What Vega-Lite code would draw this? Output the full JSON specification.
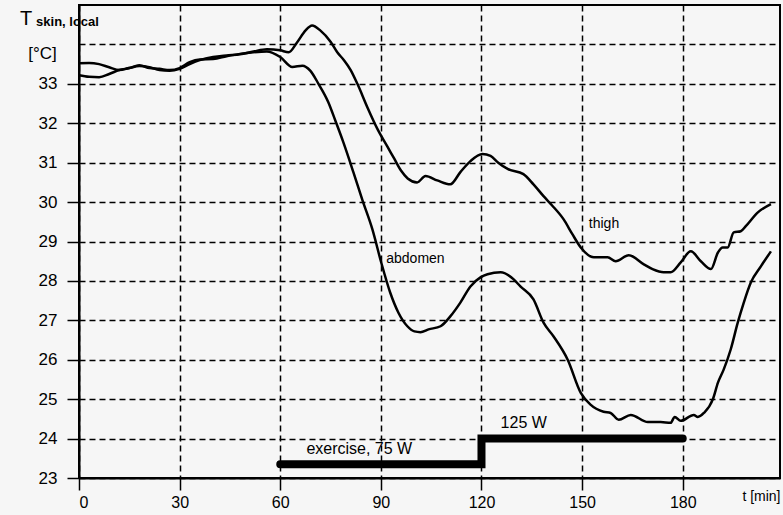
{
  "$schema": "https://vega.github.io/schema/vega-lite/v6.json",
  "autosize": {"type": "none"},
  "padding": {"left": 79, "top": 5, "right": 3, "bottom": 37},
  "width": 701,
  "height": 473,
  "background": "#f6f6f6",
  "config": {
    "view": {"stroke": "#000", "strokeWidth": 2},
    "font": "Liberation Sans, Arial, sans-serif"
  },
  "datasets": {
    "curves": [
      {"series": "thigh", "t": 0, "T": 33.52}, {"series": "thigh", "t": 3, "T": 33.53}, {"series": "thigh", "t": 6, "T": 33.5},
      {"series": "thigh", "t": 9, "T": 33.42}, {"series": "thigh", "t": 12, "T": 33.35}, {"series": "thigh", "t": 15, "T": 33.4},
      {"series": "thigh", "t": 18, "T": 33.45}, {"series": "thigh", "t": 21, "T": 33.42}, {"series": "thigh", "t": 24, "T": 33.35},
      {"series": "thigh", "t": 27, "T": 33.33}, {"series": "thigh", "t": 30, "T": 33.38}, {"series": "thigh", "t": 33, "T": 33.5},
      {"series": "thigh", "t": 36, "T": 33.6}, {"series": "thigh", "t": 40, "T": 33.68}, {"series": "thigh", "t": 44, "T": 33.72},
      {"series": "thigh", "t": 48, "T": 33.75}, {"series": "thigh", "t": 52, "T": 33.82}, {"series": "thigh", "t": 56, "T": 33.88},
      {"series": "thigh", "t": 60, "T": 33.85}, {"series": "thigh", "t": 62.5, "T": 33.8}, {"series": "thigh", "t": 65, "T": 34.05},
      {"series": "thigh", "t": 67.5, "T": 34.35}, {"series": "thigh", "t": 69.5, "T": 34.48}, {"series": "thigh", "t": 72, "T": 34.35},
      {"series": "thigh", "t": 75, "T": 34.07}, {"series": "thigh", "t": 77, "T": 33.8}, {"series": "thigh", "t": 79, "T": 33.6},
      {"series": "thigh", "t": 81, "T": 33.35}, {"series": "thigh", "t": 83, "T": 33.0}, {"series": "thigh", "t": 86, "T": 32.4},
      {"series": "thigh", "t": 89, "T": 31.85}, {"series": "thigh", "t": 92, "T": 31.4}, {"series": "thigh", "t": 94, "T": 31.1},
      {"series": "thigh", "t": 96, "T": 30.8}, {"series": "thigh", "t": 98, "T": 30.6}, {"series": "thigh", "t": 100.8, "T": 30.5},
      {"series": "thigh", "t": 103.3, "T": 30.66}, {"series": "thigh", "t": 106.8, "T": 30.55}, {"series": "thigh", "t": 110.7, "T": 30.45},
      {"series": "thigh", "t": 113.7, "T": 30.76}, {"series": "thigh", "t": 116.7, "T": 31.04}, {"series": "thigh", "t": 120.3, "T": 31.22},
      {"series": "thigh", "t": 122.7, "T": 31.17}, {"series": "thigh", "t": 125, "T": 31.0}, {"series": "thigh", "t": 127.8, "T": 30.84},
      {"series": "thigh", "t": 132.5, "T": 30.71}, {"series": "thigh", "t": 135.5, "T": 30.45}, {"series": "thigh", "t": 138.5, "T": 30.15},
      {"series": "thigh", "t": 141, "T": 29.92}, {"series": "thigh", "t": 144.5, "T": 29.56}, {"series": "thigh", "t": 147, "T": 29.2},
      {"series": "thigh", "t": 149.6, "T": 28.85}, {"series": "thigh", "t": 153.5, "T": 28.6}, {"series": "thigh", "t": 157.6, "T": 28.6},
      {"series": "thigh", "t": 160, "T": 28.5}, {"series": "thigh", "t": 163.9, "T": 28.65}, {"series": "thigh", "t": 168.4, "T": 28.42},
      {"series": "thigh", "t": 171, "T": 28.3}, {"series": "thigh", "t": 174.3, "T": 28.22}, {"series": "thigh", "t": 176.4, "T": 28.22},
      {"series": "thigh", "t": 179.4, "T": 28.47}, {"series": "thigh", "t": 182.4, "T": 28.75}, {"series": "thigh", "t": 185.4, "T": 28.5},
      {"series": "thigh", "t": 188.4, "T": 28.3}, {"series": "thigh", "t": 190.5, "T": 28.72}, {"series": "thigh", "t": 191.9, "T": 28.85},
      {"series": "thigh", "t": 193.4, "T": 28.85}, {"series": "thigh", "t": 195.2, "T": 29.23}, {"series": "thigh", "t": 197.3, "T": 29.26},
      {"series": "thigh", "t": 198.8, "T": 29.39}, {"series": "thigh", "t": 202.4, "T": 29.74}, {"series": "thigh", "t": 206.3, "T": 29.95},
      {"series": "abdomen", "t": 0, "T": 33.22}, {"series": "abdomen", "t": 3, "T": 33.18}, {"series": "abdomen", "t": 6, "T": 33.17},
      {"series": "abdomen", "t": 9, "T": 33.25}, {"series": "abdomen", "t": 12, "T": 33.35}, {"series": "abdomen", "t": 15, "T": 33.4},
      {"series": "abdomen", "t": 18, "T": 33.47}, {"series": "abdomen", "t": 21, "T": 33.4}, {"series": "abdomen", "t": 24, "T": 33.38},
      {"series": "abdomen", "t": 27, "T": 33.35}, {"series": "abdomen", "t": 30, "T": 33.4}, {"series": "abdomen", "t": 33, "T": 33.55},
      {"series": "abdomen", "t": 36, "T": 33.62}, {"series": "abdomen", "t": 40, "T": 33.63}, {"series": "abdomen", "t": 44, "T": 33.7},
      {"series": "abdomen", "t": 48, "T": 33.76}, {"series": "abdomen", "t": 52, "T": 33.8}, {"series": "abdomen", "t": 56, "T": 33.82},
      {"series": "abdomen", "t": 60, "T": 33.68}, {"series": "abdomen", "t": 63.6, "T": 33.43}, {"series": "abdomen", "t": 66.6, "T": 33.46},
      {"series": "abdomen", "t": 69, "T": 33.33}, {"series": "abdomen", "t": 71.4, "T": 33.0}, {"series": "abdomen", "t": 74.3, "T": 32.54},
      {"series": "abdomen", "t": 76.5, "T": 32.05}, {"series": "abdomen", "t": 78.8, "T": 31.52}, {"series": "abdomen", "t": 81.8, "T": 30.76},
      {"series": "abdomen", "t": 84.5, "T": 30.05}, {"series": "abdomen", "t": 87.5, "T": 29.3}, {"series": "abdomen", "t": 90, "T": 28.5},
      {"series": "abdomen", "t": 92.8, "T": 27.7}, {"series": "abdomen", "t": 95.2, "T": 27.2}, {"series": "abdomen", "t": 97.9, "T": 26.85},
      {"series": "abdomen", "t": 100, "T": 26.72}, {"series": "abdomen", "t": 101.8, "T": 26.7}, {"series": "abdomen", "t": 104.2, "T": 26.77},
      {"series": "abdomen", "t": 107.8, "T": 26.85}, {"series": "abdomen", "t": 110.7, "T": 27.1}, {"series": "abdomen", "t": 113.7, "T": 27.45},
      {"series": "abdomen", "t": 116.7, "T": 27.86}, {"series": "abdomen", "t": 119.7, "T": 28.09}, {"series": "abdomen", "t": 121.8, "T": 28.17},
      {"series": "abdomen", "t": 125.7, "T": 28.22}, {"series": "abdomen", "t": 129.6, "T": 28.04}, {"series": "abdomen", "t": 131.6, "T": 27.86},
      {"series": "abdomen", "t": 135.5, "T": 27.53}, {"series": "abdomen", "t": 138.5, "T": 26.94}, {"series": "abdomen", "t": 141.5, "T": 26.59},
      {"series": "abdomen", "t": 145.7, "T": 26.0}, {"series": "abdomen", "t": 149.6, "T": 25.16}, {"series": "abdomen", "t": 152.5, "T": 24.86},
      {"series": "abdomen", "t": 156.4, "T": 24.68}, {"series": "abdomen", "t": 158.5, "T": 24.65}, {"series": "abdomen", "t": 160.9, "T": 24.48},
      {"series": "abdomen", "t": 164.5, "T": 24.6}, {"series": "abdomen", "t": 169.6, "T": 24.42}, {"series": "abdomen", "t": 173.4, "T": 24.42},
      {"series": "abdomen", "t": 176.4, "T": 24.4}, {"series": "abdomen", "t": 177.6, "T": 24.55}, {"series": "abdomen", "t": 179.4, "T": 24.45},
      {"series": "abdomen", "t": 183.3, "T": 24.6}, {"series": "abdomen", "t": 184.5, "T": 24.55}, {"series": "abdomen", "t": 186.3, "T": 24.65},
      {"series": "abdomen", "t": 189, "T": 25.0}, {"series": "abdomen", "t": 190.5, "T": 25.42}, {"series": "abdomen", "t": 192.2, "T": 25.75},
      {"series": "abdomen", "t": 194.3, "T": 26.26}, {"series": "abdomen", "t": 196.4, "T": 26.94}, {"series": "abdomen", "t": 198.2, "T": 27.45},
      {"series": "abdomen", "t": 200.3, "T": 27.96}, {"series": "abdomen", "t": 203.3, "T": 28.37}, {"series": "abdomen", "t": 206.3, "T": 28.75}
    ],
    "exercise": [
      {"step": 1, "t": 60, "T": 23.35},
      {"step": 2, "t": 120, "T": 23.35},
      {"step": 3, "t": 120, "T": 24.0},
      {"step": 4, "t": 180, "T": 24.0}
    ],
    "labels": [
      {"text": "thigh", "t": 152, "T": 29.44},
      {"text": "abdomen", "t": 91.6, "T": 28.55}
    ],
    "powers": [
      {"text": "exercise, 75 W", "t": 67.8, "T": 23.74},
      {"text": "125 W", "t": 125.7, "T": 24.4}
    ],
    "ylabelMain": [{"text": "T", "t": -17.6, "T": 34.65}],
    "ylabelSub": [{"text": "skin, local", "t": -12.8, "T": 34.58}]
  },
  "layer": [
    {
      "data": {"name": "curves"},
      "mark": {"type": "line", "color": "#000", "strokeWidth": 2.5, "interpolate": "monotone"},
      "encoding": {
        "x": {
          "field": "t", "type": "quantitative",
          "scale": {"domain": [0, 209], "nice": false, "zero": false},
          "axis": {
            "values": [0, 30, 60, 90, 120, 150, 180],
            "title": "t [min]",
            "titleFontSize": 14, "titleFontWeight": "normal", "titleColor": "#000",
            "titleX": 701, "titleY": 18, "titleAlign": "right", "titleBaseline": "middle", "titleAnchor": "end",
            "labelFontSize": 16, "labelColor": "#000", "labelPadding": 4,
            "tickColor": "#000", "tickSize": 12, "tickWidth": 1.5,
            "domainColor": "#000", "domainWidth": 2,
            "grid": true, "gridColor": "#000", "gridDash": [6, 4], "gridWidth": 1.5, "gridOpacity": 1
          }
        },
        "y": {
          "field": "T", "type": "quantitative",
          "scale": {"domain": [23, 35], "nice": false, "zero": false},
          "axis": {
            "values": [23, 24, 25, 26, 27, 28, 29, 30, 31, 32, 33, 34],
            "labelExpr": "datum.value > 33 ? '' : datum.label",
            "tickOpacity": {"condition": {"test": "datum.value > 33", "value": 0}, "value": 1},
            "title": "[°C]",
            "titleFontSize": 17, "titleFontWeight": "normal", "titleColor": "#000",
            "titleAngle": 0, "titleX": -37, "titleY": 48, "titleAlign": "center", "titleBaseline": "middle",
            "labelFontSize": 17, "labelColor": "#000", "labelPadding": 10,
            "tickColor": "#000", "tickSize": 12, "tickWidth": 1.5,
            "domainColor": "#000", "domainWidth": 2,
            "grid": true, "gridColor": "#000", "gridDash": [6, 4], "gridWidth": 1.5, "gridOpacity": 1
          }
        },
        "detail": {"field": "series"}
      }
    },
    {
      "data": {"name": "exercise"},
      "mark": {"type": "line", "color": "#000", "strokeWidth": 8, "strokeCap": "round", "strokeJoin": "miter"},
      "encoding": {
        "x": {"field": "t", "type": "quantitative"},
        "y": {"field": "T", "type": "quantitative"},
        "order": {"field": "step"}
      }
    },
    {
      "data": {"name": "labels"},
      "mark": {"type": "text", "align": "left", "baseline": "middle", "fontSize": 14, "color": "#000"},
      "encoding": {
        "x": {"field": "t", "type": "quantitative"},
        "y": {"field": "T", "type": "quantitative"},
        "text": {"field": "text"}
      }
    },
    {
      "data": {"name": "powers"},
      "mark": {"type": "text", "align": "left", "baseline": "middle", "fontSize": 16, "color": "#000"},
      "encoding": {
        "x": {"field": "t", "type": "quantitative"},
        "y": {"field": "T", "type": "quantitative"},
        "text": {"field": "text"}
      }
    },
    {
      "data": {"name": "ylabelMain"},
      "mark": {"type": "text", "align": "left", "baseline": "middle", "fontSize": 20, "color": "#000"},
      "encoding": {
        "x": {"field": "t", "type": "quantitative"},
        "y": {"field": "T", "type": "quantitative"},
        "text": {"field": "text"}
      }
    },
    {
      "data": {"name": "ylabelSub"},
      "mark": {"type": "text", "align": "left", "baseline": "middle", "fontSize": 13, "fontWeight": "bold", "color": "#000"},
      "encoding": {
        "x": {"field": "t", "type": "quantitative"},
        "y": {"field": "T", "type": "quantitative"},
        "text": {"field": "text"}
      }
    }
  ]
}
